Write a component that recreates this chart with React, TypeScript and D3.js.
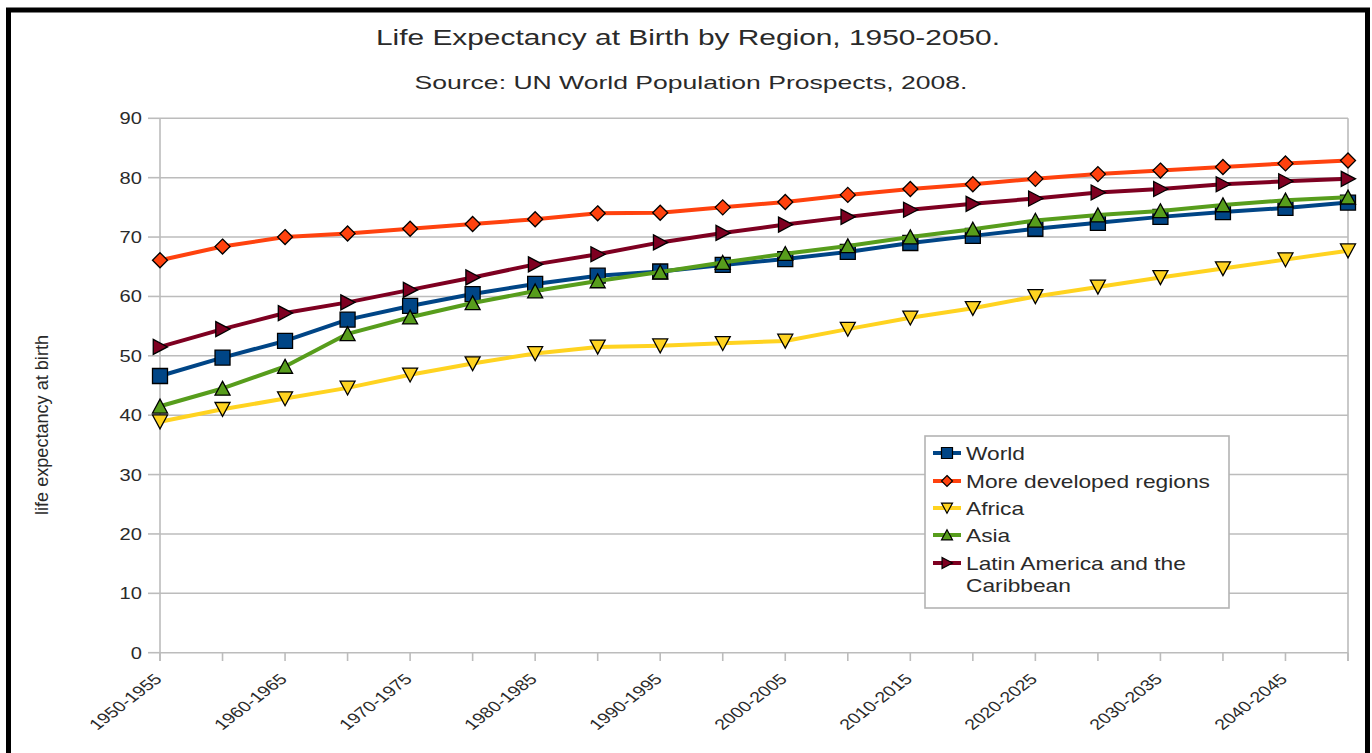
import * as d3 from "d3";

const periods = [
  "1950-1955", "1955-1960", "1960-1965", "1965-1970", "1970-1975",
  "1975-1980", "1980-1985", "1985-1990", "1990-1995", "1995-2000",
  "2000-2005", "2005-2010", "2010-2015", "2015-2020", "2020-2025",
  "2025-2030", "2030-2035", "2035-2040", "2040-2045", "2045-2050",
];

const world = [46.6, 49.7, 52.5, 56.1, 58.4, 60.4, 62.1, 63.5, 64.2, 65.3, 66.3, 67.5, 69.0, 70.2, 71.4, 72.4, 73.4, 74.2, 74.9, 75.8];
const moreDeveloped = [66.1, 68.4, 70.0, 70.6, 71.4, 72.2, 73.0, 74.0, 74.1, 75.0, 75.9, 77.1, 78.1, 78.9, 79.8, 80.6, 81.2, 81.8, 82.4, 82.9];
const africa = [38.9, 41.0, 42.8, 44.6, 46.8, 48.7, 50.4, 51.5, 51.7, 52.1, 52.5, 54.5, 56.4, 58.0, 60.0, 61.6, 63.2, 64.7, 66.2, 67.7];
const asia = [41.5, 44.5, 48.2, 53.7, 56.5, 58.9, 60.9, 62.6, 64.1, 65.7, 67.2, 68.5, 70.0, 71.3, 72.8, 73.7, 74.4, 75.4, 76.2, 76.7];
const latinAmerica = [51.5, 54.5, 57.2, 59.0, 61.1, 63.2, 65.4, 67.1, 69.1, 70.7, 72.1, 73.4, 74.6, 75.6, 76.5, 77.5, 78.1, 78.9, 79.4, 79.8];

const seriesNames = ["World", "More developed regions", "Africa", "Asia", "Latin America and the Caribbean"];
const seriesColors = ["#004586", "#ff420e", "#ffd320", "#579d1c", "#7e0021"];
const seriesShapes = ["square", "diamond", "down", "up", "right"];
const seriesValues = [world, moreDeveloped, africa, asia, latinAmerica];

const yTicks = [0, 10, 20, 30, 40, 50, 60, 70, 80, 90];

const title = "Life Expectancy at Birth by Region, 1950-2050.";
const subtitle = "Source: UN World Population Prospects, 2008.";
const yTitle = "life expectancy at birth";

const FONT = "'Liberation Sans', Arial, sans-serif";
const TEXT = "#2a2a2a";
const GRID = "#bcbcbc";
const SX = 1.3; // the picture is stretched sideways

function shapePath(kind: string, s: number) {
  if (kind === "square") return `M${-s},${-s}H${s}V${s}H${-s}Z`;
  if (kind === "diamond") return `M0,${-s}L${s},0L0,${s}L${-s},0Z`;
  if (kind === "down") return `M${-s},${-s * 0.9}L${s},${-s * 0.9}L0,${s * 0.95}Z`;
  if (kind === "up") return `M0,${-s * 0.95}L${s},${s * 0.9}L${-s},${s * 0.9}Z`;
  return `M${-s * 0.9},${-s}L${s},0L${-s * 0.9},${s}Z`;
}

export default function App() {
  const x = d3.scalePoint<string>().domain(periods).range([160, 1348]);
  const y = d3.scaleLinear().domain([0, 90]).range([652.7, 118.3]);
  const line = d3.line<number>().x((_, i) => x(periods[i])!).y((d) => y(d));

  const legendRows = [453, 481, 508, 535, 563];

  return (
    <>
      <style>{`body{margin:0}`}</style>
      <svg width={1372} height={753} style={{ display: "block", background: "#fff" }} fontFamily={FONT}>
        <rect x={8.5} y={10} width={1359} height={760} fill="#fff" stroke="#000" strokeWidth={5} />

        <text x={688} y={45} textAnchor="middle" fontSize={22} fill={TEXT} textLength={624} lengthAdjust="spacingAndGlyphs">{title}</text>
        <text x={691} y={89} textAnchor="middle" fontSize={19} fill={TEXT} textLength={553} lengthAdjust="spacingAndGlyphs">{subtitle}</text>

        {/* grid + frame */}
        {yTicks.map((t) => (
          <g key={t}>
            <line x1={160} x2={1348} y1={y(t)} y2={y(t)} stroke={GRID} strokeWidth={1.6} />
            <line x1={148} x2={160} y1={y(t)} y2={y(t)} stroke={GRID} strokeWidth={1.6} />
            <text transform={`translate(142,${y(t)}) scale(1.22,1)`} dy="0.36em" textAnchor="end" fontSize={16.5} fill={TEXT}>{t}</text>
          </g>
        ))}
        <line x1={160} x2={160} y1={y(90)} y2={661} stroke={GRID} strokeWidth={1.6} />
        <line x1={1348} x2={1348} y1={y(90)} y2={661} stroke={GRID} strokeWidth={1.6} />
        {periods.map((p, i) => (
          <g key={p}>
            <line x1={x(p)} x2={x(p)} y1={y(0)} y2={661} stroke={GRID} strokeWidth={1.6} />
            {i % 2 === 0 && (
              <text transform={`translate(${x(p)! + 3},680) scale(${SX},1) rotate(-45)`} textAnchor="end" fontSize={15} fill={TEXT}>{p}</text>
            )}
          </g>
        ))}

        <text transform={`translate(48,425) scale(1.2,1) rotate(-90)`} textAnchor="middle" fontSize={16} fill={TEXT} textLength={180} lengthAdjust="spacingAndGlyphs">{yTitle}</text>

        {/* series */}
        {seriesValues.map((vals, si) => (
          <g key={seriesNames[si]}>
            <path d={line(vals)!} fill="none" stroke={seriesColors[si]} strokeWidth={4} strokeLinejoin="round" />
            {vals.map((v, i) => (
              <path key={i} transform={`translate(${x(periods[i])},${y(v)})`} d={shapePath(seriesShapes[si], 7.5)} fill={seriesColors[si]} stroke="#000" strokeWidth={1.3} />
            ))}
          </g>
        ))}

        {/* legend */}
        <rect x={925} y={436} width={304} height={172} fill="#fff" stroke="#b3b3b3" strokeWidth={1.6} />
        {seriesNames.map((n, si) => {
          const ry = legendRows[si];
          const words = si === 4 ? ["Latin America and the", "Caribbean"] : [n];
          return (
            <g key={n}>
              <line x1={933} x2={961} y1={ry} y2={ry} stroke={seriesColors[si]} strokeWidth={4} />
              <path transform={`translate(947,${ry})`} d={shapePath(seriesShapes[si], 5.5)} fill={seriesColors[si]} stroke="#000" strokeWidth={1.2} />
              {words.map((w, wi) => (
                <text key={w} transform={`translate(966,${ry + 6.5 + wi * 22.5}) scale(${SX},1)`} fontSize={17.5} fill={TEXT}>{w}</text>
              ))}
            </g>
          );
        })}
      </svg>
    </>
  );
}
